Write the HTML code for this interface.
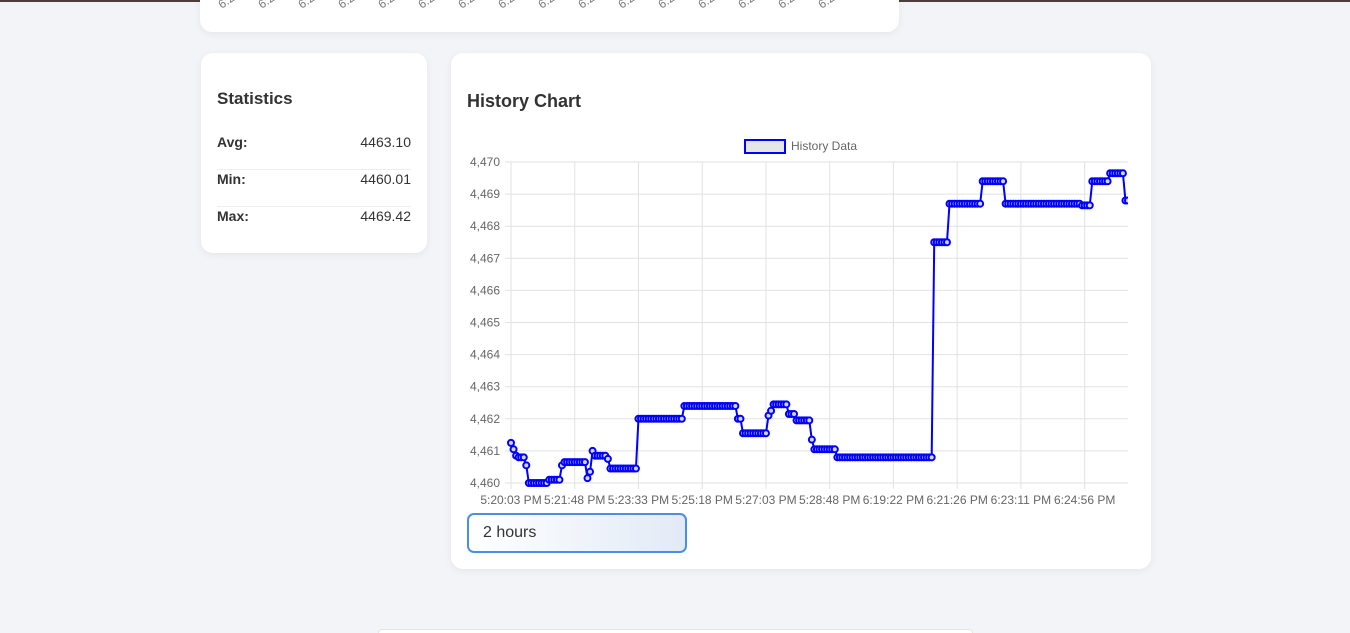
<!DOCTYPE html>
<html style="width:1350px;height:633px;overflow:hidden"><head><meta charset="utf-8"><style>
body{margin:0;width:1350px;height:633px;overflow:hidden;background:#f3f4f8;font-family:"Liberation Sans",sans-serif;position:relative}
.card{position:absolute;background:#fff;border-radius:12px;box-shadow:0 2px 8px rgba(0,0,0,0.06)}
.topline{position:absolute;left:0;top:0;width:1350px;height:2px;background:#4a3f3c}
.row{position:absolute;left:16px;width:194px;font-size:14px;color:#333;height:36px;border-bottom:1px solid #eee}
.row b{position:absolute;left:0;top:1px}
.row span{position:absolute;right:0;top:1px}
.tiny{position:absolute;top:-6px;font-size:12px;color:#777;transform:rotate(-35deg)}
</style></head><body>
<div class="topline"></div>
<div class="card" style="left:200px;top:-20px;width:699px;height:52px;overflow:hidden" id="topcard"></div>
<div class="card" style="left:201px;top:53px;width:226px;height:200px">
  <div style="position:absolute;left:16px;top:36px;font-size:17px;font-weight:bold;color:#333">Statistics</div>
  <div class="row" style="top:80px;"><b>Avg:</b><span>4463.10</span></div>
  <div class="row" style="top:117px;"><b>Min:</b><span>4460.01</span></div>
  <div class="row" style="top:154px;border-bottom:none"><b>Max:</b><span>4469.42</span></div>
</div>
<div class="card" style="left:451px;top:53px;width:700px;height:516px">
  <div style="position:absolute;left:16px;top:38px;font-size:18px;font-weight:bold;color:#333">History Chart</div>
  <div style="position:absolute;left:16px;top:460px;width:216px;height:36px;border:2px solid #4a90e2;border-radius:7px;background:linear-gradient(90deg,#fff,#e2eaf6);font-size:16px;color:#333;line-height:36px"><span style="margin-left:14px">2 hours</span></div>
</div>
<div style="position:absolute;left:378px;top:629px;width:595px;height:4px;background:#fff;border:1px solid #e3e3e3;border-bottom:none;border-radius:12px 12px 0 0;box-sizing:border-box"></div>
<svg id="chart" width="1350" height="633" style="position:absolute;left:0;top:0"></svg>
<script>
const valueRuns=[[4461.25,1],[4461.05,1],[4460.85,1],[4460.8,3],[4460.55,1],[4460.0,8],[4460.1,5],[4460.55,1],[4460.65,9],[4460.15,1],[4460.35,1],[4461.0,1],[4460.85,5],[4460.75,1],[4460.45,11],[4462.0,18],[4462.4,21],[4462.0,2],[4461.55,10],[4462.1,1],[4462.25,1],[4462.45,6],[4462.15,3],[4461.95,6],[4461.35,1],[4461.05,9],[4460.8,38],[4467.5,6],[4468.7,13],[4469.4,9],[4468.7,30],[4468.65,4],[4469.4,7],[4469.65,6],[4468.8,2]];
const xLabels=["5:20:03 PM","5:21:48 PM","5:23:33 PM","5:25:18 PM","5:27:03 PM","5:28:48 PM","6:19:22 PM","6:21:26 PM","6:23:11 PM","6:24:56 PM"];
const yTicks=[4460,4461,4462,4463,4464,4465,4466,4467,4468,4469,4470];
const labelEvery=25;
const values=[];valueRuns.forEach(r=>{for(let i=0;i<r[1];i++)values.push(r[0]);});
const NS="http://www.w3.org/2000/svg",svg=document.getElementById('chart');
const L=511,R=1128,T=162,B=483,yMin=4460,yMax=4470;
const x=i=>L+i*(R-L)/(values.length-1);
const y=v=>B-(v-yMin)/(yMax-yMin)*(B-T);
function mk(t,a){const e=document.createElementNS(NS,t);for(const k in a)e.setAttribute(k,a[k]);svg.appendChild(e);return e;}
yTicks.forEach(v=>{
  const g=mk('line',{x1:L-6,x2:R,y1:y(v),y2:y(v),stroke:'#e2e2e2'});
  
  
  const t=mk('text',{x:L-11,y:y(v)+4,'text-anchor':'end','font-size':12,fill:'#666','font-family':'Liberation Sans'});
  t.textContent=v.toLocaleString('en-US');
  
  
});
xLabels.forEach((s,k)=>{
  const xi=x(k*labelEvery);
  const g=mk('line',{x1:xi,x2:xi,y1:T,y2:B+6,stroke:'#e2e2e2'});
  
  
  const t=mk('text',{x:xi,y:504,'text-anchor':'middle','font-size':12,fill:'#666','font-family':'Liberation Sans'});
  t.textContent=s;
  
  
});
const cp=mk('clipPath',{id:'cp'});const cr=document.createElementNS(NS,'rect');cr.setAttribute('x',L-4);cr.setAttribute('y',T-6);cr.setAttribute('width',R-L+4);cr.setAttribute('height',B-T+12);cp.appendChild(cr);
const line=mk('polyline',{points:values.map((v,i)=>x(i)+','+y(v)).join(' '),fill:'none',stroke:'#0000ff','stroke-width':2,'clip-path':'url(#cp)'});


values.forEach((v,i)=>{
  const c=mk('circle',{cx:x(i),cy:y(v),r:3,fill:'#d4d4f0',stroke:'#0000ff','stroke-width':2,'clip-path':'url(#cp)'});
  
  
});
const lb=mk('rect',{x:745,y:140,width:40,height:13,fill:'#e6e6e6',stroke:'#0000ff','stroke-width':2});


const lt=mk('text',{x:791,y:150,'font-size':12,fill:'#666','font-family':'Liberation Sans'});lt.textContent='History Data';


const tc=document.getElementById('topcard');
for(let i=0;i<16;i++){const d=document.createElement('div');d.className='tiny';d.style.left=(18+i*40)+'px';d.style.top='14px';d.textContent='6:2';


tc.appendChild(d);}
</script>
</body></html>
